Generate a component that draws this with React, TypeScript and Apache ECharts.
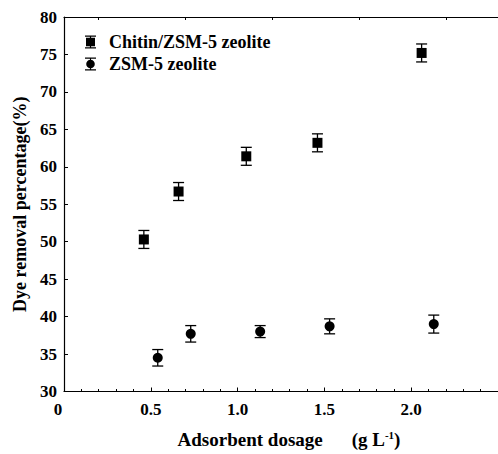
import React, { useEffect, useRef } from "react";
import * as echarts from "echarts";

// Adsorbent dosage (g/L), dye removal (%) and standard deviation for each material
const dosageChitin = [0.46, 0.66, 1.05, 1.46, 2.06];
const removalChitin = [50.3, 56.7, 61.4, 63.2, 75.2];
const errorChitin = [1.2, 1.2, 1.2, 1.2, 1.2];

const dosageZeolite = [0.54, 0.73, 1.13, 1.53, 2.13];
const removalZeolite = [34.5, 37.7, 38.0, 38.7, 39.0];
const errorZeolite = [1.1, 1.1, 0.8, 1.0, 1.2];

const seriesNames = ["Chitin/ZSM-5 zeolite", "ZSM-5 zeolite"];
const xTicks = [0, 0.5, 1.0, 1.5, 2.0, 2.5];
const topTicks = [0.2, 0.7, 1.2, 1.7, 2.2];

const FONT = '"Liberation Serif", "Times New Roman", serif';
const INK = "#000";

// legend icons: a marker sitting on an error bar
const iconSquare =
  "path://M3,0 H14 V1.3 H3 Z M7.9,0 H9.1 V13 H7.9 Z M3,11.7 H14 V13 H3 Z M4,2.3 H13 V10.7 H4 Z";
const iconCircle =
  "path://M3,0 H14 V1.3 H3 Z M7.9,0 H9.1 V13 H7.9 Z M3,11.7 H14 V13 H3 Z M12.8,6.5 A4.3,4.3 0 1 1 4.2,6.5 A4.3,4.3 0 1 1 12.8,6.5 Z";

function points(xs: number[], ys: number[]) {
  return xs.map((x, i) => [x, ys[i]]);
}

function errorRows(xs: number[], ys: number[], es: number[]) {
  return xs.map((x, i) => [x, ys[i], ys[i] - es[i], ys[i] + es[i]]);
}

function renderErrorBar(params: any, api: any) {
  const x = api.value(0);
  const top = api.coord([x, api.value(3)]);
  const bottom = api.coord([x, api.value(2)]);
  const half = 5.5;
  const style = { stroke: INK, lineWidth: 1.3, fill: "none" };
  return {
    type: "group",
    children: [
      { type: "line", shape: { x1: top[0], y1: top[1], x2: bottom[0], y2: bottom[1] }, style },
      { type: "line", shape: { x1: top[0] - half, y1: top[1], x2: top[0] + half, y2: top[1] }, style },
      { type: "line", shape: { x1: bottom[0] - half, y1: bottom[1], x2: bottom[0] + half, y2: bottom[1] }, style },
    ],
  };
}

export default function App() {
  const ref = useRef<HTMLDivElement>(null);

  useEffect(() => {
    if (!ref.current) return;
    const chart = echarts.init(ref.current, null, { renderer: "svg" });
    const axisLine = { show: true, lineStyle: { color: INK, width: 1.2 } };
    const bold = { fontFamily: FONT, fontWeight: "bold", color: INK };
    chart.setOption({
      animation: false,
      backgroundColor: "#fff",
      textStyle: { fontFamily: FONT },
      grid: { left: 64, top: 17, right: -4, bottom: 62 },
      legend: {
        orient: "vertical",
        left: 80,
        top: 28,
        itemWidth: 17,
        itemHeight: 13,
        itemGap: 4,
        selectedMode: false,
        textStyle: { ...bold, fontSize: 18, padding: [0, 0, 0, 5] },
        data: [
          { name: seriesNames[0], icon: iconSquare, itemStyle: { color: INK, opacity: 1 } },
          { name: seriesNames[1], icon: iconCircle, itemStyle: { color: INK, opacity: 1 } },
        ],
      },
      xAxis: [
        {
          type: "value",
          min: 0,
          max: 2.5,
          interval: 0.5,
          axisLine,
          splitLine: { show: false },
          axisTick: { show: true, inside: true, length: 4, lineStyle: { color: INK } },
          minorTick: { show: true, splitNumber: 5, length: 2.5, lineStyle: { color: INK } },
          axisLabel: {
            margin: 9,
            ...bold,
            fontSize: 17,
            showMaxLabel: false,
            formatter: (v: number) => (v === 0 ? "{z|0}" : v === xTicks[5] ? "" : v.toFixed(1)),
            rich: { z: { ...bold, fontSize: 17, padding: [0, 12, 0, 0] } },
          },
          name: "{a|Adsorbent dosage}{p|(g L}{s|-1}{b|)}",
          nameLocation: "middle",
          nameGap: 38,
          nameTextStyle: {
            rich: {
              a: { ...bold, fontSize: 19, padding: [0, 0, 0, 16] },
              p: { ...bold, fontSize: 19, padding: [0, 0, 0, 29] },
              b: { ...bold, fontSize: 19 },
              s: { ...bold, fontSize: 11, padding: [0, 0, 9, 0] },
            },
          },
        },
        {
          type: "value",
          position: "top",
          min: 0,
          max: 2.5,
          axisLine,
          splitLine: { show: false },
          axisLabel: { show: false },
          axisTick: { show: true, inside: true, length: 3, customValues: topTicks, lineStyle: { color: INK } },
        },
      ],
      yAxis: {
        type: "value",
        min: 30,
        max: 80,
        interval: 5,
        axisLine,
        splitLine: { show: false },
        axisTick: { show: true, inside: true, length: 4, lineStyle: { color: INK } },
        axisLabel: { margin: 7, ...bold, fontSize: 17 },
        name: "Dye removal percentage(%)",
        nameLocation: "middle",
        nameGap: 35,
        nameTextStyle: { ...bold, fontSize: 18 },
      },
      series: [
        {
          type: "custom",
          renderItem: renderErrorBar,
          data: errorRows(dosageChitin, removalChitin, errorChitin),
          encode: { x: 0, y: [1, 2, 3] },
          silent: true,
          z: 1,
        },
        {
          type: "custom",
          renderItem: renderErrorBar,
          data: errorRows(dosageZeolite, removalZeolite, errorZeolite),
          encode: { x: 0, y: [1, 2, 3] },
          silent: true,
          z: 1,
        },
        {
          name: seriesNames[0],
          type: "scatter",
          symbol: "rect",
          symbolSize: 10,
          itemStyle: { color: INK, opacity: 1 },
          data: points(dosageChitin, removalChitin),
          z: 2,
        },
        {
          name: seriesNames[1],
          type: "scatter",
          symbol: "circle",
          symbolSize: 10,
          itemStyle: { color: INK, opacity: 1 },
          data: points(dosageZeolite, removalZeolite),
          z: 2,
        },
      ],
    });
    return () => chart.dispose();
  }, []);

  return (
    <div
      ref={ref}
      style={{ position: "fixed", left: 0, top: 0, width: 498, height: 454, background: "#fff" }}
    />
  );
}
